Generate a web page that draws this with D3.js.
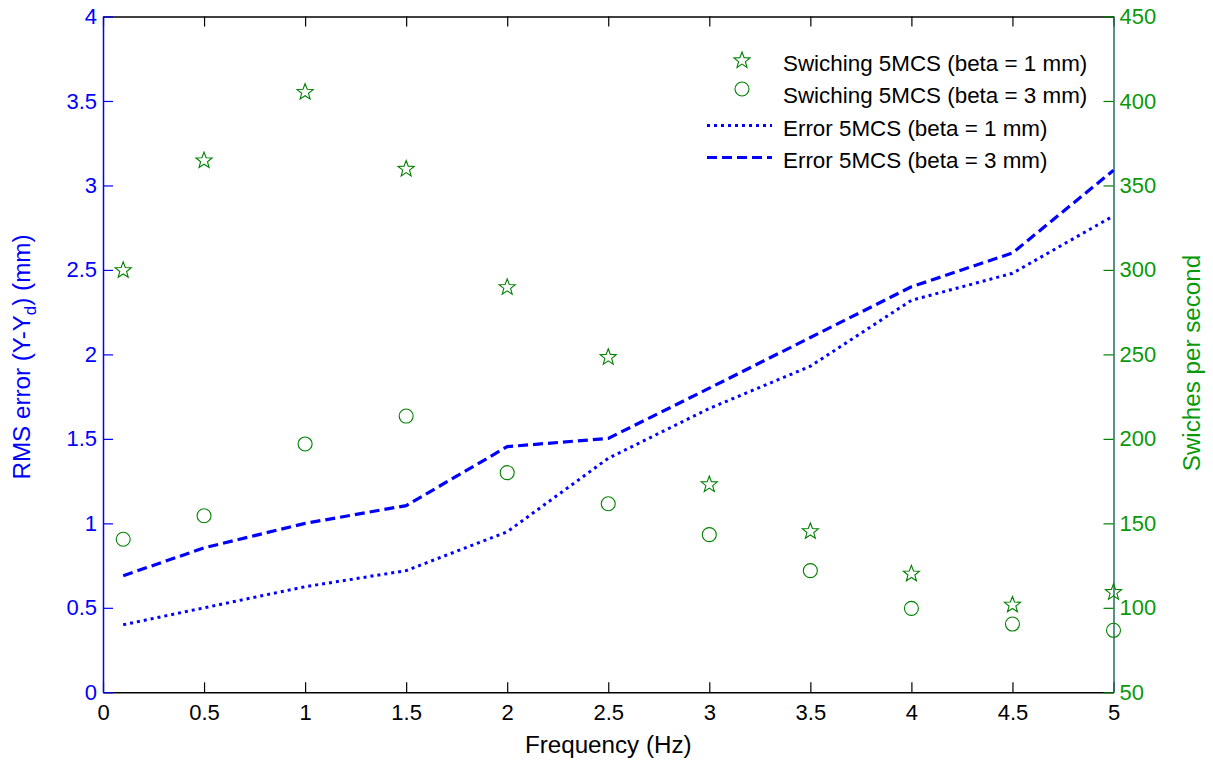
<!DOCTYPE html>
<html>
<head>
<meta charset="utf-8">
<script src="https://cdn.jsdelivr.net/npm/d3@7"></script>
<style>
  body { margin: 0; background: #fff; }
  svg { display: block; font-family: Arial, "Liberation Sans", sans-serif; }
</style>
</head>
<body>
<svg id="chart" width="1213" height="760"></svg>
<script>
// ---- data ----
const freq = [0.1, 0.5, 1, 1.5, 2, 2.5, 3, 3.5, 4, 4.5, 5];
const switchBeta1 = [300, 365, 405.5, 360, 290, 248.6, 173.3, 145.5, 120.4, 102, 109.5];
const switchBeta3 = [140.6, 154.5, 197, 213.5, 180, 161.6, 143.3, 122, 99.7, 90.4, 86.7];
const errorBeta1 = [0.40, 0.50, 0.625, 0.72, 0.95, 1.385, 1.68, 1.93, 2.32, 2.48, 2.82];
const errorBeta3 = [0.69, 0.855, 1.0, 1.105, 1.454, 1.503, 1.80, 2.10, 2.40, 2.60, 3.09];
const xTicks = [0, 0.5, 1, 1.5, 2, 2.5, 3, 3.5, 4, 4.5, 5];
const leftTicks = [0, 0.5, 1, 1.5, 2, 2.5, 3, 3.5, 4];
const rightTicks = [50, 100, 150, 200, 250, 300, 350, 400, 450];
const legendLabels = [
  "Swiching 5MCS (beta = 1 mm)",
  "Swiching 5MCS (beta = 3 mm)",
  "Error 5MCS (beta = 1 mm)",
  "Error 5MCS (beta = 3 mm)"
];

// ---- layout ----
const L = 103, R = 1113.5, T = 16.5, B = 692.3;
const BLUE = "#0000ff", GREEN = "#008000", GREEN_TXT = "#0a990a", AX2 = "#1f6e63";
const FS = 22, FS_LEG = 22.4, FS_LAB = 24.2;
const FONT = "Arial, 'Liberation Sans', sans-serif";

const svg = d3.select("#chart");
const x = d3.scaleLinear().domain([0, 5]).range([L, R]);
const yL = d3.scaleLinear().domain([0, 4]).range([B, T]);
const yR = d3.scaleLinear().domain([50, 450]).range([B, T]);

const fmt = d => String(d);

// bottom axis (ticks inward)
const bottomAxis = d3.axisBottom(x).tickValues(xTicks).tickFormat(fmt).tickSizeInner(-10).tickSizeOuter(0).tickPadding(12);
const gB = svg.append("g").attr("transform", `translate(0,${B})`).call(bottomAxis);
gB.select(".domain").attr("stroke", "#000").attr("stroke-width", 1.5);
gB.selectAll(".tick line").attr("stroke", "#000").attr("stroke-width", 1.2);
gB.selectAll(".tick text").attr("fill", "#000").attr("font-size", FS).attr("font-family", FONT);

// top axis (ticks inward, no labels)
const topAxis = d3.axisTop(x).tickValues(xTicks).tickFormat("").tickSizeInner(-10).tickSizeOuter(0);
const gT = svg.append("g").attr("transform", `translate(0,${T})`).call(topAxis);
gT.select(".domain").attr("stroke", "#000").attr("stroke-width", 1.5);
gT.selectAll(".tick line").attr("stroke", "#000").attr("stroke-width", 1.2);

// left axis
const leftAxis = d3.axisLeft(yL).tickValues(leftTicks).tickFormat(fmt).tickSizeInner(-10).tickSizeOuter(0).tickPadding(6);
const gL = svg.append("g").attr("transform", `translate(${L},0)`).call(leftAxis);
gL.select(".domain").attr("stroke", BLUE).attr("stroke-width", 1.5);
gL.selectAll(".tick line").attr("stroke", BLUE).attr("stroke-width", 1.2);
gL.selectAll(".tick text").attr("fill", BLUE).attr("font-size", FS).attr("font-family", FONT);

// right axis
const rightAxis = d3.axisRight(yR).tickValues(rightTicks).tickFormat(fmt).tickSizeInner(-10).tickSizeOuter(0).tickPadding(6);
const gR = svg.append("g").attr("transform", `translate(${R},0)`).call(rightAxis);
gR.select(".domain").attr("stroke", AX2).attr("stroke-width", 1.5);
gR.selectAll(".tick line").attr("stroke", GREEN).attr("stroke-width", 1.2);
gR.selectAll(".tick text").attr("fill", GREEN_TXT).attr("font-size", FS).attr("font-family", FONT);

// ---- lines ----
const lineGen = d3.line().x((d, i) => x(freq[i])).y(d => yL(d));
svg.append("path").datum(errorBeta1)
  .attr("d", lineGen).attr("fill", "none").attr("stroke", BLUE)
  .attr("stroke-width", 3).attr("stroke-dasharray", "3,4");
svg.append("path").datum(errorBeta3)
  .attr("d", lineGen).attr("fill", "none").attr("stroke", BLUE)
  .attr("stroke-width", 3.2).attr("stroke-dasharray", "10,5");

// ---- markers ----
function starPath(cx, cy, ro) {
  const ri = ro * 0.42;
  let p = "";
  for (let k = 0; k < 10; k++) {
    const r = k % 2 === 0 ? ro : ri;
    const a = -Math.PI / 2 + k * Math.PI / 5;
    p += (k === 0 ? "M" : "L") + (cx + r * Math.cos(a)).toFixed(2) + "," + (cy + r * Math.sin(a)).toFixed(2);
  }
  return p + "Z";
}
svg.append("g").selectAll("path").data(switchBeta1).join("path")
  .attr("d", (d, i) => starPath(x(freq[i]), yR(d) + 0.5, 8.5))
  .attr("fill", "none").attr("stroke", GREEN).attr("stroke-width", 1.1);
svg.append("g").selectAll("circle").data(switchBeta3).join("circle")
  .attr("cx", (d, i) => x(freq[i])).attr("cy", d => yR(d)).attr("r", 7)
  .attr("fill", "none").attr("stroke", GREEN).attr("stroke-width", 1.1);

// ---- legend ----
const legRows = [60.5, 92, 125.5, 157.5];
const lg = svg.append("g");
lg.append("path").attr("d", starPath(742, legRows[0], 8.5)).attr("fill", "none").attr("stroke", GREEN).attr("stroke-width", 1.1);
lg.append("circle").attr("cx", 742).attr("cy", legRows[1] - 3).attr("r", 7).attr("fill", "none").attr("stroke", GREEN).attr("stroke-width", 1.1);
lg.append("line").attr("x1", 707).attr("x2", 772).attr("y1", legRows[2]).attr("y2", legRows[2])
  .attr("stroke", BLUE).attr("stroke-width", 3).attr("stroke-dasharray", "3,4");
lg.append("line").attr("x1", 707).attr("x2", 772).attr("y1", legRows[3]).attr("y2", legRows[3])
  .attr("stroke", BLUE).attr("stroke-width", 3.2).attr("stroke-dasharray", "10,5");
lg.selectAll("text").data(legendLabels).join("text")
  .attr("x", 783).attr("y", (d, i) => legRows[i] + 3)
  .attr("dy", "0.35em").attr("font-size", FS_LEG).attr("fill", "#000").text(d => d);

// ---- axis titles ----
svg.append("text").attr("x", (L + R) / 2).attr("y", 745).attr("dy", "0.35em")
  .attr("text-anchor", "middle").attr("font-size", FS_LAB).attr("fill", "#000").text("Frequency (Hz)");

const yl = svg.append("text").attr("transform", `translate(30,${357}) rotate(-90)`)
  .attr("text-anchor", "middle").attr("font-size", FS_LAB).attr("fill", BLUE);
yl.append("tspan").text("RMS error (Y-Y");
yl.append("tspan").attr("font-size", 17).attr("dy", 6).text("d");
yl.append("tspan").attr("dy", -6).text(") (mm)");

svg.append("text").attr("transform", `translate(1200,${363}) rotate(-90)`)
  .attr("text-anchor", "middle").attr("font-size", FS_LAB).attr("fill", GREEN_TXT).text("Swiches per second");
</script>
</body>
</html>
